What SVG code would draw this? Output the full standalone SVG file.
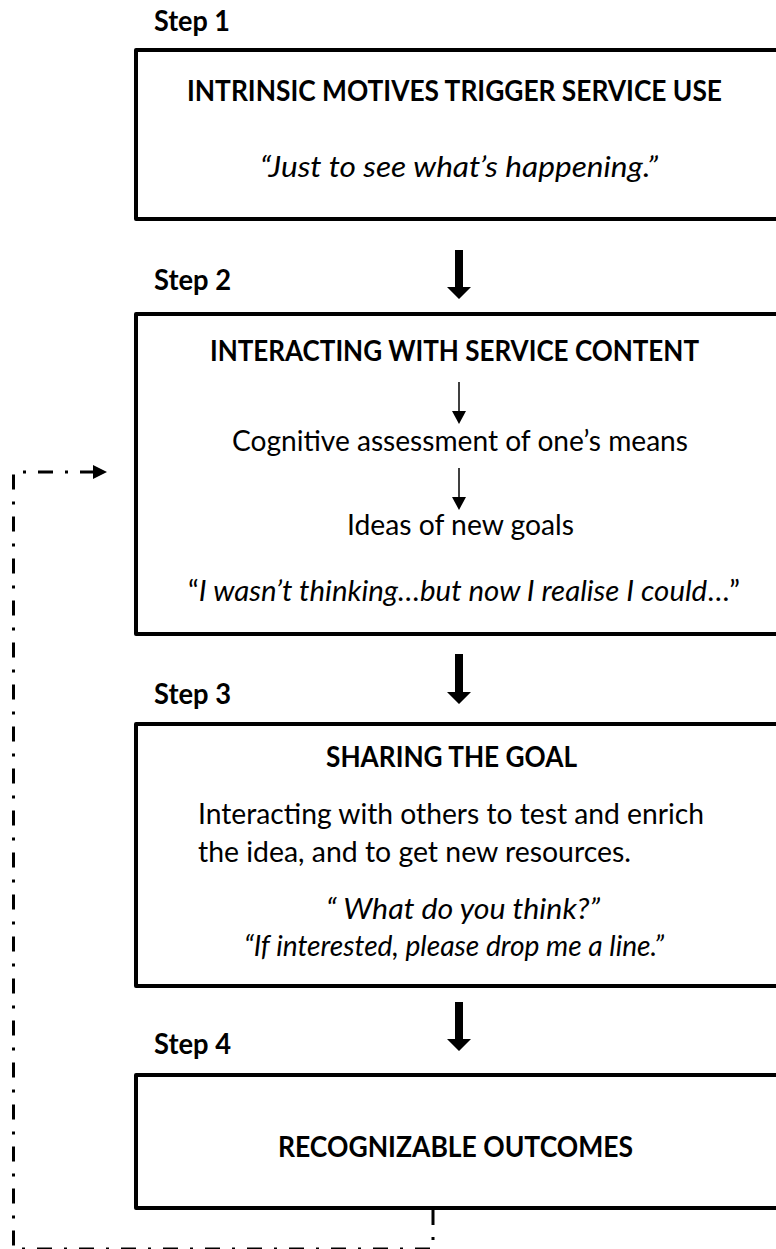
<svg xmlns="http://www.w3.org/2000/svg" width="776" height="1249" viewBox="0 0 776 1249">
<style>
text{font-family:Lato,"Open Sans","Liberation Sans",sans-serif;fill:#000;font-size:29px}
.b{font-weight:bold}
.i{font-style:italic}
.box{fill:#fff;stroke:#000;stroke-width:4;stroke-linejoin:round}
.thin{stroke:#000;stroke-width:1.5;fill:none}
.loop{stroke:#000;stroke-width:3;fill:none;stroke-dasharray:15 12 3 12}
</style>
<defs>
<marker id="tri" markerWidth="14" markerHeight="14" refX="0" refY="7" orient="auto" markerUnits="userSpaceOnUse">
<path d="M0,0 L14,7 L0,14 Z" fill="#000"/>
</marker>
</defs>

<g id="step1">
<text class="b" x="154" y="31" textLength="76" lengthAdjust="spacingAndGlyphs">Step 1</text>
<rect class="box" x="136" y="50" width="660" height="169"/>
<text class="b" x="187" y="101" textLength="535" lengthAdjust="spacingAndGlyphs">INTRINSIC MOTIVES TRIGGER SERVICE USE</text>
<text class="i" x="260" y="177" textLength="398" lengthAdjust="spacingAndGlyphs">“Just to see what’s happening.”</text>
</g>

<g id="step2">
<text class="b" x="154" y="290" textLength="77" lengthAdjust="spacingAndGlyphs">Step 2</text>
<rect class="box" x="136" y="314" width="660" height="320"/>
<text class="b" x="210" y="361" textLength="489" lengthAdjust="spacingAndGlyphs">INTERACTING WITH SERVICE CONTENT</text>
<text x="232" y="451" textLength="456" lengthAdjust="spacingAndGlyphs">Cognitive assessment of one’s means</text>
<text x="347" y="535" textLength="227" lengthAdjust="spacingAndGlyphs">Ideas of new goals</text>
<text x="188" y="601" textLength="552" lengthAdjust="spacingAndGlyphs"><tspan>“</tspan><tspan class="i">I wasn’t thinking…but now I realise I could</tspan><tspan>…”</tspan></text>
<line class="thin" x1="459" y1="382" x2="459" y2="413"/>
<polygon points="452,411 466,411 459,424"/>
<line class="thin" x1="459" y1="468" x2="459" y2="499"/>
<polygon points="452,497 466,497 459,510"/>
</g>

<g id="step3">
<text class="b" x="154" y="704" textLength="77" lengthAdjust="spacingAndGlyphs">Step 3</text>
<rect class="box" x="136" y="724" width="660" height="262"/>
<text class="b" x="326" y="767" textLength="251" lengthAdjust="spacingAndGlyphs">SHARING THE GOAL</text>
<text x="198" y="824" textLength="506" lengthAdjust="spacingAndGlyphs">Interacting with others to test and enrich</text>
<text x="198" y="862" textLength="433" lengthAdjust="spacingAndGlyphs">the idea, and to get new resources.</text>
<text class="i" x="326" y="919" textLength="274" lengthAdjust="spacingAndGlyphs">“ What do you think?”</text>
<text class="i" x="244" y="956" textLength="420" lengthAdjust="spacingAndGlyphs">“If interested, please drop me a line.”</text>
</g>

<g id="step4">
<text class="b" x="154" y="1054" textLength="77" lengthAdjust="spacingAndGlyphs">Step 4</text>
<rect class="box" x="136" y="1075" width="660" height="133"/>
<text class="b" x="278" y="1157" textLength="355" lengthAdjust="spacingAndGlyphs">RECOGNIZABLE OUTCOMES</text>
</g>

<g id="connectors">
<polygon points="455,250 463,250 463,287 471,287 459,299 447,287 455,287"/>
<polygon points="455,654 463,654 463,692 471,692 459,704 447,692 455,692"/>
<polygon points="455,1002 463,1002 463,1039 471,1039 459,1051 447,1039 455,1039"/>
<path class="loop" d="M433,1210 L433,1249 L13.5,1249 L13.5,472 L93,472" marker-end="url(#tri)"/>
</g>
</svg>
